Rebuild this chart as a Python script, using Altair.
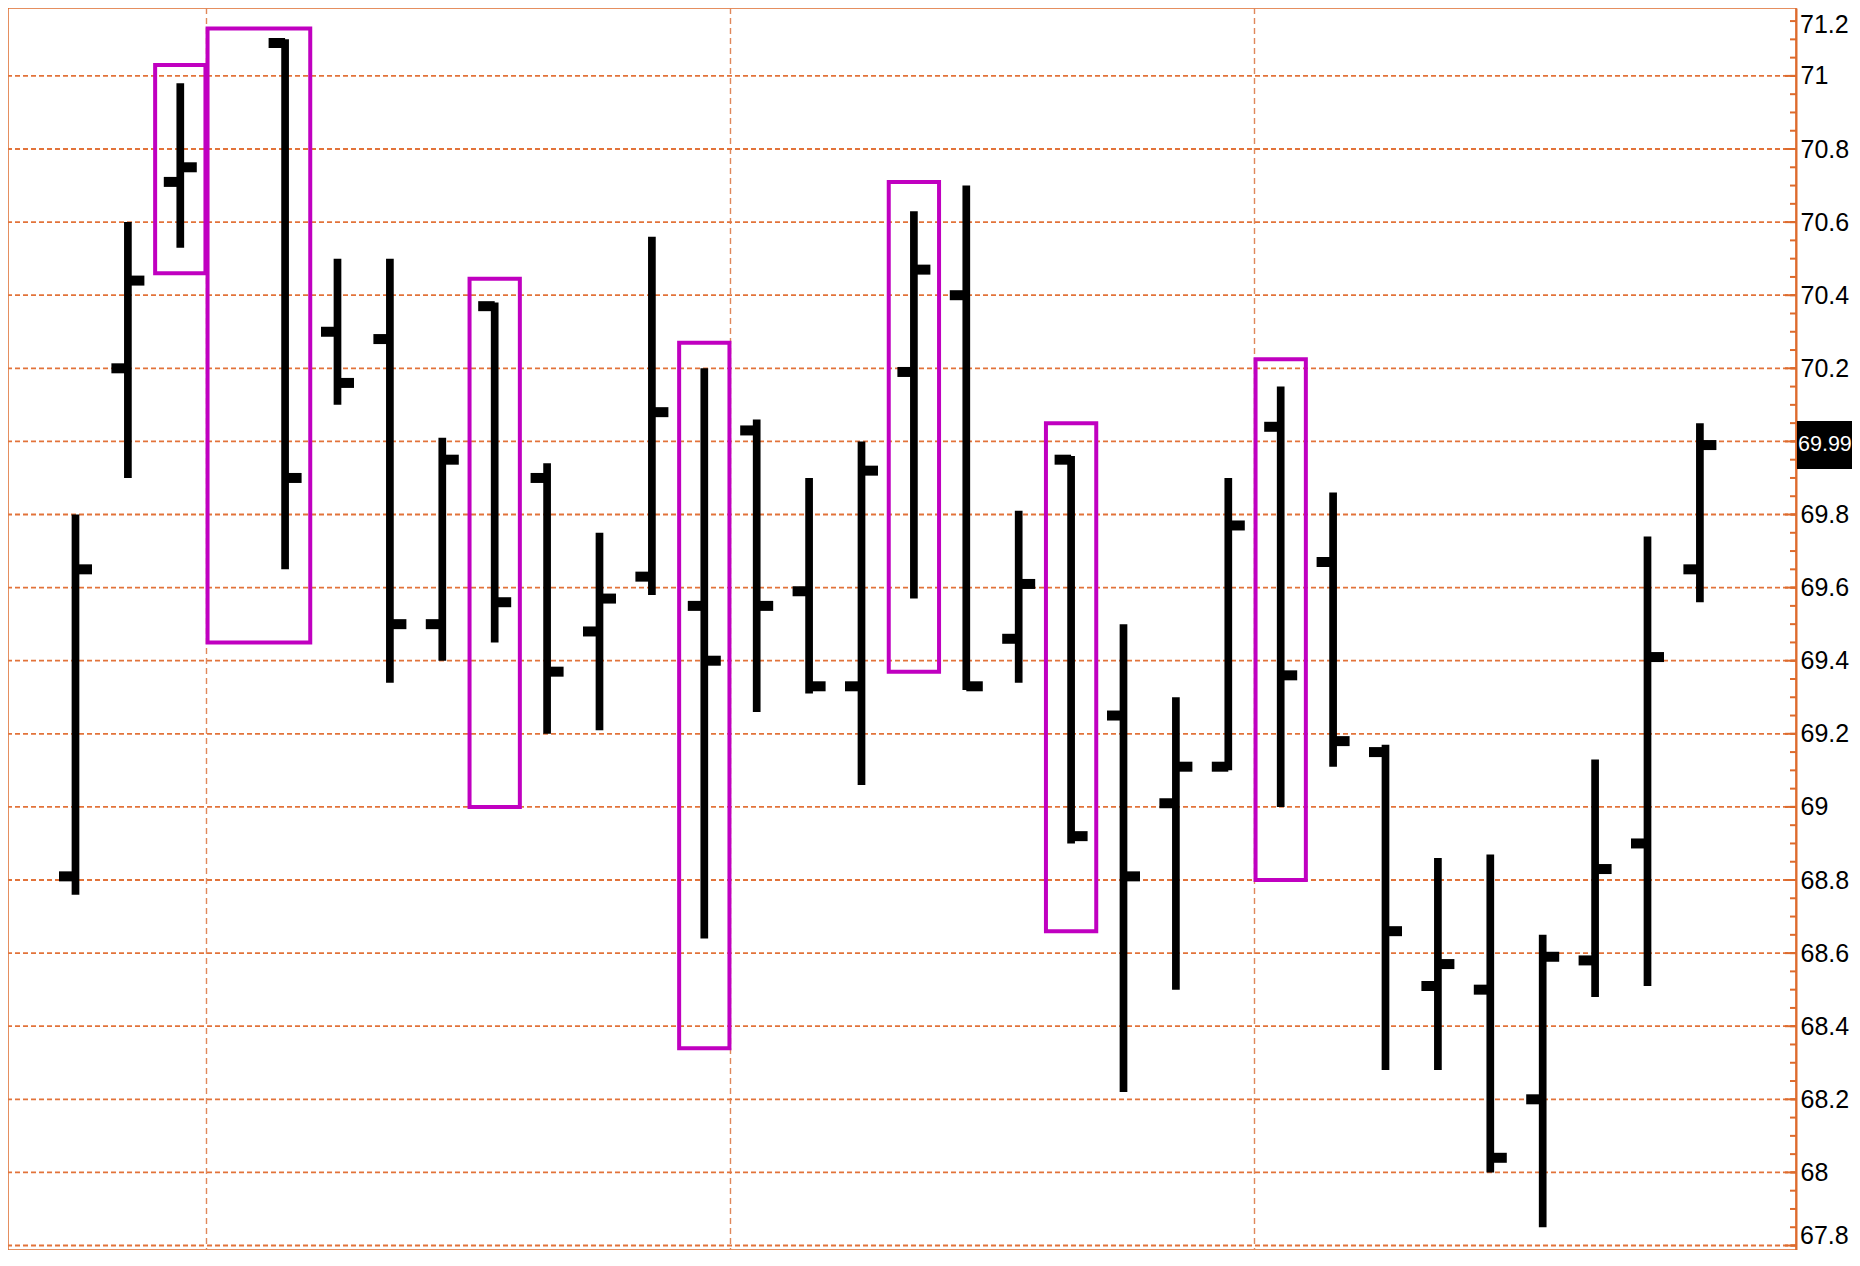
import altair as alt
import pandas as pd

# ---------------- data ----------------
slots  = [0, 1, 2, 4, 5, 6, 7, 8, 9, 10, 11, 12, 13, 14, 15, 16, 17, 18, 19, 20,
          21, 22, 23, 24, 25, 26, 27, 28, 29, 30, 31]
opens  = [68.81, 70.20, 70.71, 71.09, 70.30, 70.28, 69.50, 70.37, 69.90, 69.48,
          69.63, 69.55, 70.03, 69.59, 69.33, 70.19, 70.40, 69.46, 69.95, 69.25,
          69.01, 69.11, 70.04, 69.67, 69.15, 68.51, 68.50, 68.20, 68.58, 68.90, 69.65]
highs  = [69.80, 70.60, 70.98, 71.10, 70.50, 70.50, 70.01, 70.38, 69.94, 69.75,
          70.56, 70.20, 70.06, 69.90, 70.00, 70.63, 70.70, 69.81, 69.96, 69.50,
          69.30, 69.90, 70.15, 69.86, 69.17, 68.86, 68.87, 68.65, 69.13, 69.74, 70.05]
lows   = [68.76, 69.90, 70.53, 69.65, 70.10, 69.34, 69.40, 69.45, 69.20, 69.21,
          69.58, 68.64, 69.26, 69.31, 69.06, 69.57, 69.32, 69.34, 68.90, 68.22,
          68.50, 69.10, 69.00, 69.11, 68.28, 68.28, 68.00, 67.85, 68.48, 68.51, 69.56]
closes = [69.65, 70.44, 70.75, 69.90, 70.16, 69.50, 69.95, 69.56, 69.37, 69.57,
          70.08, 69.40, 69.55, 69.33, 69.92, 70.47, 69.33, 69.61, 68.92, 68.81,
          69.11, 69.77, 69.36, 69.18, 68.66, 68.57, 68.04, 68.59, 68.83, 69.41, 69.99]

grid_values  = [67.8, 68.0, 68.2, 68.4, 68.6, 68.8, 69.0, 69.2, 69.4, 69.6,
                69.8, 70.0, 70.2, 70.4, 70.6, 70.8, 71.0, 71.2]
label_values = [68.0, 68.2, 68.4, 68.6, 68.8, 69.0, 69.2, 69.4, 69.6,
                69.8, 70.2, 70.4, 70.6, 70.8, 71.0]
top_label = [71.2]
bottom_label = [67.8]
separators = [2.5, 12.5, 22.5]

box_first  = [2, 3, 8, 12, 16, 19, 23]
box_last   = [2, 4, 8, 12, 16, 19, 23]
box_top    = [71.03, 71.13, 70.445, 70.27, 70.71, 70.05, 70.225]
box_bottom = [70.46, 69.45, 69.00, 68.34, 69.37, 68.66, 68.80]

last_price = [69.99]

# ---------------- styling ----------------
W, H = 1788, 1242
ORANGE = "#DD6B2D"
GRID = "#E2733A"
VGRID = "#E0875A"
MAGENTA = "#C000C0"
FONT = "Liberation Sans, Arial, sans-serif"
LABEL_SIZE = 25

xscale = alt.Scale(domain=[-1.288, 32.834], nice=False, zero=False)
yscale = alt.Scale(domain=[67.7877, 71.1858], nice=False, zero=False)
yaxis = alt.Axis(orient="right", values=label_values, format=".1~f", ticks=False,
                 grid=False, domain=True, domainColor=ORANGE, domainWidth=2,
                 labelFont=FONT, labelFontSize=LABEL_SIZE, labelColor="black",
                 labelPadding=4, title=None, labelOverlap=False, labelFlush=False)

bars = pd.DataFrame({"slot": slots, "open": opens, "high": highs,
                     "low": lows, "close": closes})
boxes = pd.DataFrame({"first": box_first, "last": box_last,
                      "top": box_top, "bottom": box_bottom})
grid = pd.DataFrame({"v": grid_values})
seps = pd.DataFrame({"s": separators})
lastp = pd.DataFrame({"v": last_price})
toplab = pd.DataFrame({"v": top_label})
botlab = pd.DataFrame({"v": bottom_label})

vgrid = alt.Chart(seps).mark_rule(color=VGRID, strokeWidth=1.4, strokeDash=[6, 4]).encode(
    x=alt.X("s:Q", scale=xscale, axis=None))

hgrid = alt.Chart(grid).mark_rule(color=GRID, strokeWidth=1.8, strokeDash=[5, 3]).encode(
    y=alt.Y("v:Q", scale=yscale, axis=yaxis))

box_layer = alt.Chart(boxes).transform_calculate(
    x1="datum.first - 0.48", x2="datum.last + 0.48"
).mark_rect(fillOpacity=0, stroke=MAGENTA, strokeWidth=4).encode(
    x=alt.X("x1:Q", scale=xscale, axis=None), x2="x2:Q",
    y=alt.Y("top:Q", scale=yscale, axis=yaxis), y2="bottom:Q")

hl = alt.Chart(bars).mark_rule(color="black", strokeWidth=7.7).encode(
    x=alt.X("slot:Q", scale=xscale, axis=None),
    y=alt.Y("low:Q", scale=yscale, axis=yaxis), y2="high:Q")

open_tick = alt.Chart(bars).mark_rule(color="black", strokeWidth=10,
                                      xOffset=-16.5, x2Offset=0).encode(
    x=alt.X("slot:Q", scale=xscale, axis=None), x2="slot:Q",
    y=alt.Y("open:Q", scale=yscale, axis=yaxis))

close_tick = alt.Chart(bars).mark_rule(color="black", strokeWidth=10,
                                       xOffset=0, x2Offset=16.5).encode(
    x=alt.X("slot:Q", scale=xscale, axis=None), x2="slot:Q",
    y=alt.Y("close:Q", scale=yscale, axis=yaxis))

minor_ticks = alt.Chart(alt.sequence(67.8, 71.21, 0.05, as_="v")).mark_rule(
    color=ORANGE, strokeWidth=2).encode(
    x=alt.value(W - 6), x2=alt.value(W),
    y=alt.Y("v:Q", scale=yscale, axis=yaxis))

major_ticks = alt.Chart(grid).mark_rule(color=ORANGE, strokeWidth=2).encode(
    x=alt.value(W - 11), x2=alt.value(W),
    y=alt.Y("v:Q", scale=yscale, axis=yaxis))

top_text = alt.Chart(toplab).mark_text(
    font=FONT, fontSize=LABEL_SIZE, color="black", align="left", baseline="middle",
    yOffset=22, dx=4).encode(
    x=alt.value(W), y=alt.Y("v:Q", scale=yscale, axis=yaxis),
    text=alt.Text("v:Q", format=".1f"))

bottom_text = alt.Chart(botlab).mark_text(
    font=FONT, fontSize=LABEL_SIZE, color="black", align="left", baseline="middle",
    yOffset=-10, dx=4).encode(
    x=alt.value(W), y=alt.Y("v:Q", scale=yscale, axis=yaxis),
    text=alt.Text("v:Q", format=".1f"))

price_box = alt.Chart(lastp).mark_rect(color="black", yOffset=-24, y2Offset=24).encode(
    x=alt.value(W + 1), x2=alt.value(W + 56),
    y=alt.Y("v:Q", scale=yscale, axis=yaxis), y2="v:Q")

price_text = alt.Chart(lastp).mark_text(
    font=FONT, fontSize=21.5, color="white", align="left", baseline="middle", dx=2).encode(
    x=alt.value(W), y=alt.Y("v:Q", scale=yscale, axis=yaxis),
    text=alt.Text("v:Q", format=".2f"))

chart = alt.layer(
    vgrid, hgrid, box_layer, hl, open_tick, close_tick,
    minor_ticks, major_ticks, top_text, bottom_text, price_box, price_text
).properties(
    width=W, height=H,
    autosize=alt.AutoSizeParams(type="none"),
    padding={"left": 0, "top": 0, "right": 56, "bottom": 0},
    background="white",
).configure_view(stroke=ORANGE, strokeWidth=1.5)

chart.save("out.html", embed_options={"renderer": "svg", "actions": False})
